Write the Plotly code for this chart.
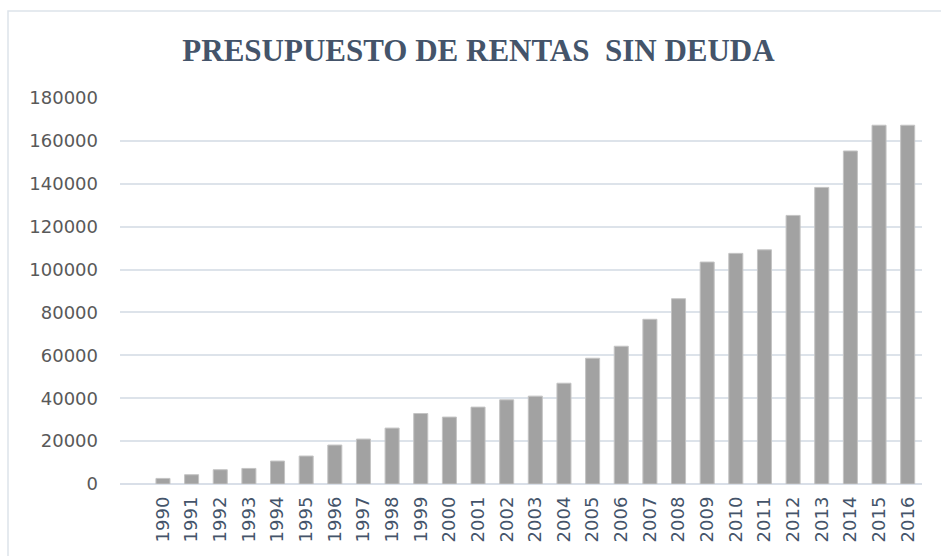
import plotly.graph_objects as go

years = [str(y) for y in range(1990, 2017)]
values = [2600, 4330, 6660, 7260, 10700, 13040, 18160, 20950, 26070, 32870,
          31200, 35850, 39250, 40970, 47000, 58650, 64250, 76800, 86400, 103500,
          107550, 109200, 125250, 138300, 155300, 167300, 167300]
y_ticks = list(range(0, 180001, 20000))
title_text = "PRESUPUESTO DE RENTAS  SIN DEUDA"

W, H = 941, 556
ML, MR, MT, MB = 120, 19, 98, 72
PW, PH = W - ML - MR, H - MT - MB

def px_x(x):
    return (x - ML) / PW

def px_y(y):
    return (H - MB - y) / PH

fig = go.Figure()
fig.add_trace(go.Bar(
    x=years, y=values,
    marker=dict(color="#a2a2a2", line=dict(color="#c4c4c4", width=1)),
    hoverinfo="x+y",
))

fig.update_layout(
    width=W, height=H,
    margin=dict(l=ML, r=MR, t=MT, b=MB),
    paper_bgcolor="white", plot_bgcolor="white",
    bargap=0.51,
    showlegend=False,
    title=dict(
        text="<b>" + title_text + "</b>",
        x=478.5 / W, xref="container", xanchor="center",
        y=1 - 50 / H, yref="container", yanchor="middle",
        font=dict(family="Liberation Serif", size=31, color="#44546a"),
    ),
    xaxis=dict(
        type="category",
        range=[-1.5, 26.5],
        tickangle=-90,
        showgrid=False,
        showline=False,
        ticks="",
        ticklabelstandoff=8,
        tickfont=dict(family="DejaVu Sans", size=18, color="#44546a"),
    ),
    yaxis=dict(
        range=[0, 180000],
        tickvals=y_ticks,
        ticktext=[str(v) for v in y_ticks],
        showgrid=True,
        gridcolor="#dde3ea",
        gridwidth=1.5,
        zeroline=True,
        zerolinecolor="#d9dfe8",
        zerolinewidth=2,
        showline=False,
        ticks="",
        ticklabelstandoff=21,
        tickfont=dict(family="DejaVu Sans", size=18, color="#595959"),
    ),
    shapes=[dict(
        type="rect", xref="paper", yref="paper",
        x0=px_x(8), x1=px_x(W + 10), y0=px_y(H + 10), y1=px_y(11),
        line=dict(color="#dde3ea", width=1.5), fillcolor="rgba(0,0,0,0)",
        layer="below",
    )],
)

fig.write_html(
    "out.html",
    config={"displayModeBar": False},
    post_script="document.body.style.margin='0';document.body.style.overflow='hidden';",
)
